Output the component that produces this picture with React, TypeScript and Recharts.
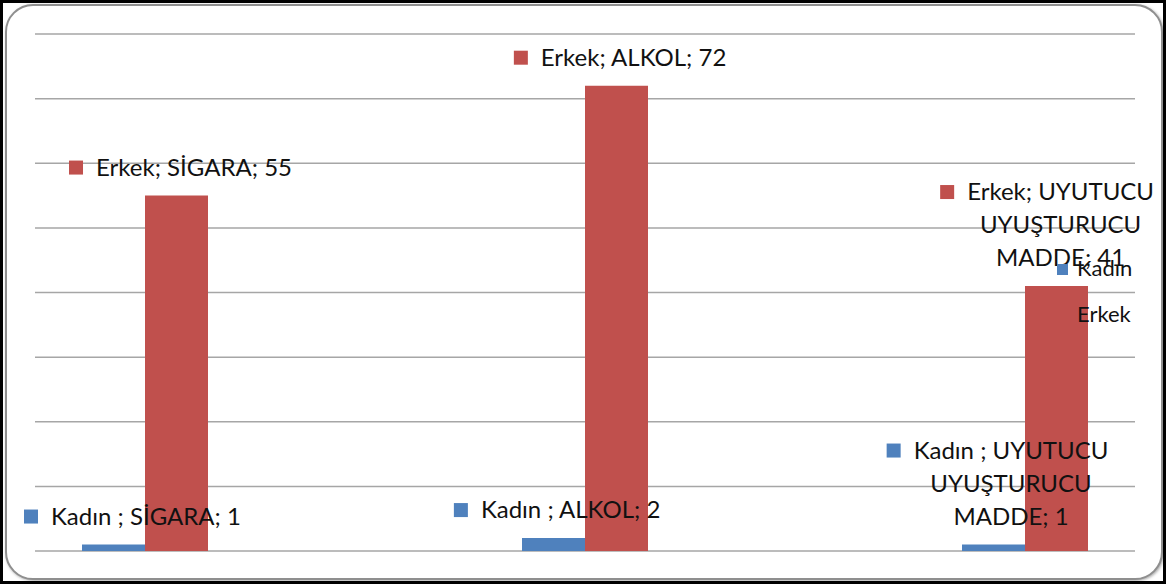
import React from "react";
import { Bar, BarChart, CartesianGrid, LabelList, Legend, XAxis, YAxis } from "recharts";

const categories = ["SİGARA", "ALKOL", "UYUTUCU UYUŞTURUCU MADDE"];
const kadinValues = [1, 2, 1];
const erkekValues = [55, 72, 41];
const yTicks = [0, 10, 20, 30, 40, 50, 60, 70, 80];
const seriesNames = { kadin: "Kadın ", erkek: "Erkek" };

const BLUE = "#4F81BD";
const RED = "#C0504D";
const FONT = "Lato, 'Open Sans', sans-serif";
const LABEL_SIZE = 24;
const LINE_H = 33;

const data = categories.map((c, i) => ({
  category: c,
  pos: i,
  kadin: kadinValues[i],
  erkek: erkekValues[i],
}));

let ctx: CanvasRenderingContext2D | null = null;
const measure = (s: string) => {
  if (!ctx) ctx = document.createElement("canvas").getContext("2d");
  if (!ctx) return s.length * 11;
  ctx.font = `${LABEL_SIZE}px ${FONT}`;
  return ctx.measureText(s).width;
};

// Excel wraps the long category label onto several lines
const wrap = (text: string) => {
  if (text.length <= 18) return [text];
  const words = text.split(" ");
  const lines: string[] = [];
  let cur = "";
  words.forEach((w) => {
    const next = cur ? cur + " " + w : w;
    if (next.length > 16 && cur) {
      lines.push(cur);
      cur = w;
    } else cur = next;
  });
  if (cur) lines.push(cur);
  return lines;
};

const makeLabel = (series: "kadin" | "erkek", color: string) => (props: any) => {
  const { x, y, width, index } = props;
  const values = series === "kadin" ? kadinValues : erkekValues;
  const text = `${seriesNames[series]}; ${categories[index]}; ${values[index]}`;
  const lines = wrap(text);
  const maxW = Math.max(...lines.map(measure));
  const blockW = 27 + maxW;
  const center = Number(x) + Number(width) / 2 + 4;
  let left = center - blockW / 2;
  left = Math.max(24, Math.min(1154 - blockW, left));
  const lastBase = Number(y) - 20;
  const firstBase = lastBase - (lines.length - 1) * LINE_H;
  const textCx = left + 27 + maxW / 2;
  return (
    <g>
      <rect x={left} y={firstBase - 15} width={14} height={14} fill={color} />
      {lines.map((l, i) => (
        <text
          key={i}
          x={lines.length > 1 ? textCx : left + 27}
          y={firstBase + i * LINE_H}
          textAnchor={lines.length > 1 ? "middle" : "start"}
          fontSize={LABEL_SIZE}
          fontFamily={FONT}
          fill="#111"
        >
          {l}
        </text>
      ))}
    </g>
  );
};

const LegendBox = (props: any) => {
  const items = [...(props.payload || [])].sort((a: any, b: any) =>
    String(a.value).startsWith("Kad") ? -1 : String(b.value).startsWith("Kad") ? 1 : 0
  );
  return (
    <svg width={120} height={100} style={{ display: "block", overflow: "visible" }}>
      {items.map((it: any, i: number) => (
        <g key={i}>
          <rect x={17} y={24 + i * 46} width={11} height={11} fill={it.color} />
          <text x={37} y={36 + i * 46} fontSize={22} fontFamily={FONT} fill="#111">
            {String(it.value).trim()}
          </text>
        </g>
      ))}
    </svg>
  );
};

export default function App() {
  return (
    <div style={{ position: "absolute", left: 0, top: 0, width: 1166, height: 584, background: "#000" }}>
      <div style={{ position: "absolute", left: 3, top: 3, width: 1160, height: 578, background: "#fff" }} />
      <div
        style={{
          position: "absolute",
          left: 5,
          top: 4,
          width: 1154,
          height: 572,
          border: "2px solid #8f8f8f",
          borderRadius: 28,
          boxShadow: "1px 1px 3px rgba(0,0,0,0.35)",
          background: "#fff",
        }}
      />
      <div style={{ position: "absolute", left: 0, top: 0 }}>
        <BarChart
          width={1166}
          height={584}
          data={data}
          margin={{ top: 34, right: 31, bottom: 33, left: 35 }}
          barGap={0}
        >
          <CartesianGrid vertical={false} stroke="#a6a6a6" strokeWidth={1.5} />
          <XAxis type="number" dataKey="pos" domain={[-0.25, 2.25]} hide />
          <YAxis domain={[0, 80]} ticks={yTicks} hide />
          <Bar dataKey="kadin" name={seriesNames.kadin} fill={BLUE} barSize={63} isAnimationActive={false}>
            <LabelList dataKey="kadin" content={makeLabel("kadin", BLUE)} />
          </Bar>
          <Bar dataKey="erkek" name={seriesNames.erkek} fill={RED} barSize={63} isAnimationActive={false}>
            <LabelList dataKey="erkek" content={makeLabel("erkek", RED)} />
          </Bar>
          <Legend
            layout="horizontal"
            align="center"
            verticalAlign="middle"
            content={<LegendBox />}
            wrapperStyle={{ left: 1040, top: 240, width: 120, height: 100 }}
          />
        </BarChart>
      </div>
    </div>
  );
}
